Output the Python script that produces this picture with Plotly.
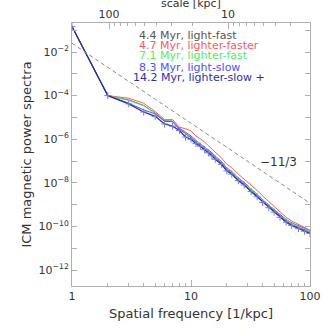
import numpy as np
import plotly.graph_objects as go

# spatial frequency samples [1/kpc]
k = [1, 2, 3, 4, 5, 6, 7, 8, 9, 10, 11, 12, 13, 14, 15, 16, 18, 20, 22, 25,
     28, 32, 36, 40, 45, 50, 56, 63, 70, 80, 90, 100]

# log10 of power spectra
log_light_fast = [-0.835, -4.0, -4.2, -4.45, -4.8, -5.15, -5.17, -5.5, -5.68, -5.85, -6.05, -6.2,
                  -6.35, -6.5, -6.62, -6.78, -7.02, -7.32, -7.48, -7.78, -7.98, -8.28, -8.52,
                  -8.77, -9.02, -9.22, -9.47, -9.68, -9.83, -9.98, -10.1, -10.2]
log_lighter_faster = [-0.835, -4.0, -4.12, -4.35, -4.73, -5.1, -5.1, -5.45, -5.52, -5.62, -5.85, -6.0,
                      -6.12, -6.3, -6.45, -6.6, -6.85, -7.15, -7.3, -7.6, -7.82, -8.1, -8.35,
                      -8.6, -8.85, -9.08, -9.35, -9.58, -9.75, -9.92, -10.05, -10.17]
log_lighter_fast = [-0.835, -4.0, -4.22, -4.47, -4.81, -5.16, -5.18, -5.52, -5.7, -5.88, -6.07, -6.22,
                    -6.36, -6.52, -6.65, -6.8, -7.05, -7.35, -7.5, -7.8, -8.0, -8.3, -8.54,
                    -8.8, -9.04, -9.24, -9.49, -9.7, -9.85, -10.0, -10.12, -10.22]
log_light_slow = [-0.835, -4.0, -4.35, -4.65, -4.84, -5.18, -5.2, -5.55, -5.74, -5.93, -6.12, -6.27,
                  -6.42, -6.57, -6.7, -6.86, -7.1, -7.4, -7.56, -7.86, -8.06, -8.36, -8.6,
                  -8.86, -9.1, -9.3, -9.55, -9.76, -9.91, -10.06, -10.18, -10.28]
log_lighter_slow = [-0.835, -4.0, -4.38, -4.75, -4.95, -5.3, -5.4, -5.6, -5.9, -6.0, -6.2, -6.32,
                    -6.48, -6.62, -6.76, -6.92, -7.15, -7.45, -7.6, -7.9, -8.1, -8.4, -8.64,
                    -8.9, -9.14, -9.34, -9.58, -9.8, -9.95, -10.1, -10.22, -10.32]

series_labels = ["4.4 Myr, light-fast", "4.7 Myr, lighter-faster", "7.1 Myr, lighter-fast",
                 "8.3 Myr, light-slow", "14.2 Myr, lighter-slow +"]
series_colors = ["#555555", "#ff5a5a", "#55ee55", "#5050ff", "#2e2ea8"]

# Kolmogorov reference slope
slope_k = [1, 100]
slope_norm = 10 ** -1.6
box_kpc = 205.0

fig = go.Figure()
all_logs = [log_light_fast, log_lighter_faster, log_lighter_fast, log_light_slow, log_lighter_slow]
for i, (vals, col) in enumerate(zip(all_logs, series_colors)):
    p = [10 ** v for v in vals]
    if i == 4:
        fig.add_trace(go.Scatter(x=k, y=p, mode="lines+markers",
                                 line=dict(color=col, width=1.3),
                                 marker=dict(symbol="cross-thin", size=5,
                                             line=dict(color="#7878e8", width=1))))
    else:
        fig.add_trace(go.Scatter(x=k, y=p, mode="lines", line=dict(color=col, width=1)))

fig.add_trace(go.Scatter(x=slope_k, y=[slope_norm * kk ** (-11 / 3) for kk in slope_k],
                         mode="lines", line=dict(color="#888888", width=1, dash="4px,3px")))

# invisible trace to carry the top scale axis
fig.add_trace(go.Scatter(x=[box_kpc, box_kpc / 100], y=[1e-5, 1e-5], xaxis="x2",
                         mode="lines", line=dict(width=0), hoverinfo="skip"))

fam = "DejaVu Sans, sans-serif"
font = dict(family=fam, size=11, color="#333333")
axcol = "#b0b0b0"

y_ticks = [10.0 ** e for e in range(-12, 0)]
y_text = [f"10<sup>\u2212{-e}</sup>" if e % 2 == 0 else "" for e in range(-12, 0)]

fig.update_layout(
    width=332, height=332,
    margin=dict(l=72, r=22, t=23, b=46),
    plot_bgcolor="white", paper_bgcolor="white",
    showlegend=False,
    font=font,
    xaxis=dict(type="log", range=[0, 2], showgrid=False, zeroline=False, automargin=False,
               showline=True, linecolor=axcol, linewidth=1,
               ticks="inside", ticklen=6, tickcolor=axcol,
               tickvals=[1, 10, 100], ticktext=["1", "10", "100"],
               minor=dict(tickvals=[2, 3, 4, 5, 6, 7, 8, 9, 20, 30, 40, 50, 60, 70, 80, 90],
                          ticks="inside", ticklen=3, tickcolor=axcol),
               title=dict(text="Spatial frequency [1/kpc]", standoff=6)),
    xaxis2=dict(type="log", overlaying="x", side="top", anchor="y", automargin=False,
                range=[np.log10(box_kpc), np.log10(box_kpc / 100)],
                showgrid=False, zeroline=False, showline=True, linecolor=axcol,
                ticks="inside", ticklen=6, tickcolor=axcol,
                tickvals=[100, 10], ticktext=["100", "10"],
                minor=dict(tickvals=[90, 80, 70, 60, 50, 40, 30, 20, 9, 8, 7, 6, 5, 4, 3],
                           ticks="inside", ticklen=3, tickcolor=axcol)),
    yaxis=dict(type="log", range=[-12.73, -0.67], showgrid=False, zeroline=False,
               automargin=False,
               showline=True, linecolor=axcol, mirror="ticks",
               ticks="inside", ticklen=5, tickcolor=axcol,
               tickvals=y_ticks, ticktext=y_text,
               title=dict(text="ICM magnetic power spectra", standoff=4)),
)

fig.add_annotation(text="scale [kpc]", xref="paper", yref="paper",
                   x=0.5, y=(286 - 3) / 263, xanchor="center", yanchor="middle",
                   showarrow=False, font=font)

label_x = [137, 137, 137, 137, 131]
label_y = [36, 46, 56, 67, 77]
for txt, col, lx, ly in zip(series_labels, series_colors, label_x, label_y):
    fig.add_annotation(text=txt, xref="paper", yref="paper",
                       x=(lx - 72) / 238, y=(286 - ly) / 263,
                       xanchor="left", yanchor="middle", showarrow=False,
                       font=dict(family=fam, size=11, color=col))

fig.add_annotation(text="\u221211/3", xref="paper", yref="paper",
                   x=(258 - 72) / 238, y=(286 - 162) / 263,
                   xanchor="left", yanchor="middle", showarrow=False,
                   font=dict(family=fam, size=12, color="#333333"))

fig.write_html("out.html", config={"displayModeBar": False},
               post_script="document.body.style.margin='0';")
